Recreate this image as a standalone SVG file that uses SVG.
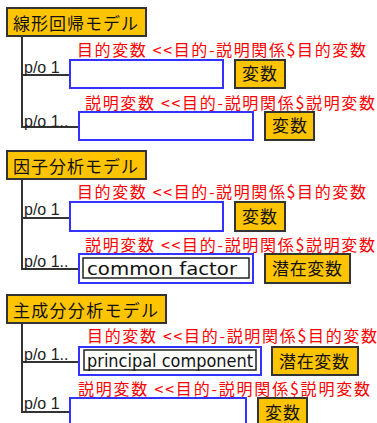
<svg xmlns="http://www.w3.org/2000/svg" width="377" height="423" viewBox="0 0 377 423">
<style>
.bg{fill:#fff}
.title{fill:#FFC400;stroke:#333;stroke-width:2}
.tt{font-family:"Noto Sans CJK JP",sans-serif;font-size:17px;fill:#111}
.var{fill:#FFC400;stroke:#333;stroke-width:2}
.vt{font-family:"Noto Sans CJK JP",sans-serif;font-size:17px;fill:#111}
.slot{fill:#fff;stroke:#3333ff;stroke-width:2}
.inner{fill:#fff;stroke:#222;stroke-width:1.5}
.it{font-family:"DejaVu Sans",sans-serif;font-size:18px;fill:#111}
.lbl{font-family:"Noto Sans CJK JP",sans-serif;font-size:16px;fill:#f00}
.po{font-family:"Liberation Sans",sans-serif;font-size:16px;fill:#222}
.ln{fill:none;stroke:#333;stroke-width:2}
</style>
<rect class="bg" x="0" y="0" width="377" height="423"/>
<g id="connectors">
<path class="ln" d="M22 36V127H79M22 75H70"/>
<path class="ln" d="M22 179V269H79M22 218H70"/>
<path class="ln" d="M22 323V412H70M22 362H79"/>
</g>
<g id="model1">
<rect class="title" x="7" y="8" width="139" height="28"/>
<text class="tt" x="13" y="30" textLength="125">線形回帰モデル</text>
</g>
<g id="m1-target">
<text class="po" x="24" y="73">p/o 1</text>
<text class="lbl" x="77" y="56" textLength="289">目的変数 &lt;&lt;目的-説明関係$目的変数</text>
<rect class="slot" x="70" y="60" width="153" height="28"/>
<rect class="var" x="235" y="60" width="50" height="28"/>
<text class="vt" x="242" y="80" textLength="35">変数</text>
</g>
<g id="m1-explain">
<text class="po" x="24" y="127">p/o 1..</text>
<text class="lbl" x="85" y="109" textLength="290">説明変数 &lt;&lt;目的-説明関係$説明変数</text>
<rect class="slot" x="79" y="112" width="174" height="28"/>
<rect class="var" x="265" y="112" width="49" height="28"/>
<text class="vt" x="272" y="132" textLength="35">変数</text>
</g>
<g id="model2">
<rect class="title" x="7" y="151" width="139" height="28"/>
<text class="tt" x="13" y="173" textLength="125">因子分析モデル</text>
</g>
<g id="m2-target">
<text class="po" x="24" y="215">p/o 1</text>
<text class="lbl" x="77" y="198" textLength="289">目的変数 &lt;&lt;目的-説明関係$目的変数</text>
<rect class="slot" x="70" y="202" width="153" height="29"/>
<rect class="var" x="235" y="202" width="50" height="29"/>
<text class="vt" x="242" y="223" textLength="35">変数</text>
</g>
<g id="m2-explain">
<text class="po" x="24" y="267">p/o 1..</text>
<text class="lbl" x="85" y="251" textLength="290">説明変数 &lt;&lt;目的-説明関係$説明変数</text>
<rect class="slot" x="79" y="254" width="174" height="29"/>
<rect class="inner" x="83" y="258" width="166" height="20"/>
<text class="it" x="87" y="275" textLength="150" lengthAdjust="spacingAndGlyphs">common factor</text>
<rect class="var" x="265" y="254" width="85" height="29"/>
<text class="vt" x="272" y="275" textLength="70">潜在変数</text>
</g>
<g id="model3">
<rect class="title" x="7" y="295" width="159" height="28"/>
<text class="tt" x="13" y="317" textLength="145">主成分分析モデル</text>
</g>
<g id="m3-target">
<text class="po" x="24" y="360">p/o 1..</text>
<text class="lbl" x="87" y="342" textLength="290">目的変数 &lt;&lt;目的-説明関係$目的変数</text>
<rect class="slot" x="79" y="347" width="182" height="28"/>
<rect class="inner" x="84" y="350" width="172" height="20"/>
<text class="it" x="87" y="367" textLength="166" lengthAdjust="spacingAndGlyphs">principal component</text>
<rect class="var" x="272" y="347" width="86" height="28"/>
<text class="vt" x="279" y="368" textLength="70">潜在変数</text>
</g>
<g id="m3-explain">
<text class="po" x="24" y="409">p/o 1</text>
<text class="lbl" x="78" y="395" textLength="292">説明変数 &lt;&lt;目的-説明関係$説明変数</text>
<rect class="slot" x="70" y="398" width="176" height="30"/>
<rect class="var" x="258" y="398" width="49" height="30"/>
<text class="vt" x="265" y="419" textLength="35">変数</text>
</g>
</svg>
